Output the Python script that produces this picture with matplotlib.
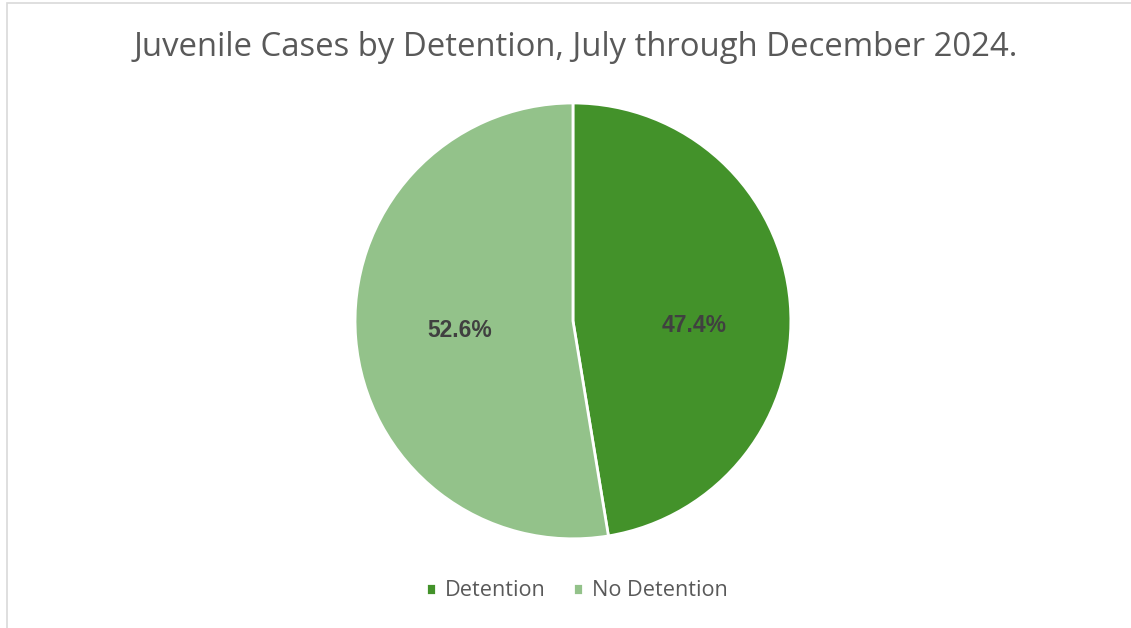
import matplotlib.pyplot as plt
from matplotlib.patches import Rectangle

# chart data
categories = ["Detention", "No Detention"]
shares = [47.4, 52.6]
colors = ["#43922A", "#93C28A"]
title = "Juvenile Cases by Detention, July through December 2024."

fig = plt.figure(figsize=(11.31, 6.28), dpi=100)
fig.patch.set_facecolor("white")

# light chart-area border (right/bottom edges fall outside the crop)
fig.patches.append(Rectangle((7 / 1131, -0.05), 1.2, 1 - 2.5 / 628 + 0.05,
                             transform=fig.transFigure, fill=False,
                             edgecolor="#D9D9D9", linewidth=1.2))

ax = fig.add_axes([0.5066 - 0.19275, 0.489 - 0.347, 0.3855, 0.694])
wedges, texts, autotexts = ax.pie(
    shares, colors=colors, startangle=90, counterclock=False,
    autopct="%.1f%%", pctdistance=0.52,
    wedgeprops=dict(edgecolor="white", linewidth=2),
    textprops=dict(color="#404040", fontsize=16.5, fontweight="bold",
                   family="Liberation Sans"))
ax.set_xlim(-1, 1)
ax.set_ylim(-1, 1)
ax.set_aspect("equal")

# Excel puts the first label a little lower/further out than the mid-angle spot
x0, y0 = autotexts[0].get_position()
autotexts[0].set_position((x0 + 0.04, y0 - 0.065))

fig.text(0.5 + 10 / 1131, 1 - 48 / 628, title, ha="center", va="center",
         fontsize=23.7, color="#595959", family="Open Sans")

fig.legend(wedges, categories, loc="center", bbox_to_anchor=(0.51, 1 - 591 / 628),
           ncol=2, frameon=False, handlelength=0.45, handleheight=0.45,
           handletextpad=0.4, columnspacing=1.3,
           prop=dict(family="Open Sans", size=15.6), labelcolor="#595959")

fig.savefig("out.png", dpi=100)
